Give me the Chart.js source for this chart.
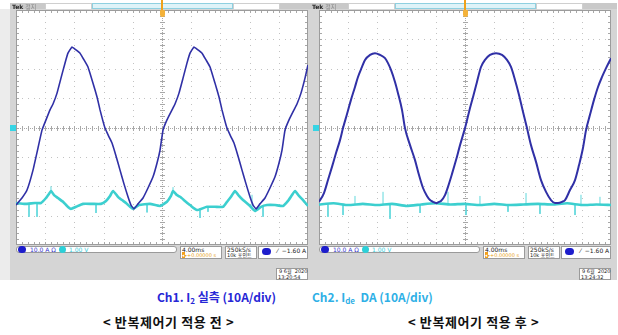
<!DOCTYPE html>
<html>
<head>
<meta charset="utf-8">
<script src="https://cdn.jsdelivr.net/npm/chart.js@4.4.1/dist/chart.umd.min.js"></script>
<style>
  body { margin: 0; width: 618px; height: 335px; background: #fff; position: relative; overflow: hidden;
         font-family: "Noto Sans CJK KR", "Noto Sans", sans-serif; }
  .b { position: absolute; box-sizing: border-box; }
  .t { position: absolute; white-space: nowrap; font-family: "DejaVu Sans", "Noto Sans CJK KR", sans-serif; }
  canvas { position: absolute; background: #fff; }
  .cap { position: absolute; white-space: nowrap; font-weight: bold; font-size: 12px; line-height: 16px; }
  .cap sub { font-size: 8px; vertical-align: -2px; line-height: 0; }
  .cap.k { font-size: 13px; letter-spacing: 0.6px; }
</style>
</head>
<body>
<canvas id="before" width="292" height="235" style="left:16px;top:10px"></canvas>
<canvas id="after" width="292" height="235" style="left:319px;top:10px"></canvas>

<div class="cap" style="left:157px;top:289px;color:#2626d6">Ch1. I<sub>2</sub> 실측 (10A/div)</div>
<div class="cap" style="left:312px;top:289px;color:#2fb0e6">Ch2. I<sub>de</sub>&nbsp; DA (10A/div)</div>
<div class="cap k" style="left:103px;top:314px;color:#111">&lt; 반복제어기 적용 전 &gt;</div>
<div class="cap k" style="left:408px;top:314px;color:#111">&lt; 반복제어기 적용 후 &gt;</div>

<script>
// 시간축: ms (4 ms/div), 세로축: A (10 A/div)
const xTicks = [-16, -12, -8, -4, 0, 4, 8, 12, 16];
const yTicks = [-30, -20, -10, 0, 10, 20, 30];

// 적용 전 - Ch1 I2 실측
const ch1BeforeT = [-20.0, -19.18, -18.49, -17.67, -16.99, -16.44, -15.89, -15.34, -14.93, -14.38, -13.84, -13.29, -12.88, -12.33,
  -11.78, -11.23, -10.68, -10.14, -9.45, -8.90, -8.49, -7.81, -7.26, -6.85, -6.30, -5.75, -5.21, -4.66, -4.25, -3.84,
  -3.29, -2.60, -1.92, -1.23, -0.68, -0.27, 0.14, 0.68, 1.37, 1.78, 2.33, 2.88, 3.42, 3.84, 4.38,
  4.93, 5.48, 6.03, 6.58, 7.26, 7.81, 8.22, 8.90, 9.45, 9.86, 10.41, 10.96, 11.51, 12.05, 12.47, 12.88,
  13.42, 14.11, 14.79, 15.48, 16.03, 16.44, 16.85, 17.40, 18.08, 18.49, 19.04, 19.59, 20.0];
const ch1BeforeA = [-26.4, -24.0, -21.3, -14.5, -7.0, -0.9, 2.6, 6.0, 8.0, 11.7, 16.8, 21.9, 25.3, 27.4,
  26.4, 25.3, 23.0, 20.6, 15.1, 10.4, 6.0, -0.2, -3.2, -5.3, -9.7, -14.5, -19.2, -23.6, -26.4, -27.7,
  -26.0, -24.0, -20.6, -16.8, -12.1, -7.7, -0.9, 2.6, 6.0, 8.0, 11.7, 16.8, 21.9, 25.3, 27.4,
  26.4, 25.3, 23.0, 20.6, 15.1, 10.4, 6.0, -0.2, -3.2, -5.3, -9.7, -14.5, -19.2, -23.6, -26.4, -27.7,
  -26.0, -24.0, -20.6, -16.8, -12.1, -7.7, -0.9, 2.6, 6.0, 8.0, 11.7, 16.8, 21.3];

// 적용 전 - Ch2 Ide DA
const ch2BeforeT = [-20.0, -18.77, -17.40, -16.58, -15.89, -15.48, -15.21, -14.79, -14.25, -13.56, -13.01, -12.47, -11.78, -10.82,
  -9.59, -8.36, -7.67, -7.12, -6.71, -6.03, -5.48, -4.93, -4.38, -3.97, -3.15, -1.64, -0.27,
  0.68, 1.23, 1.51, 2.05, 2.47, 3.15, 3.84, 4.79, 6.16, 7.26, 8.36, 8.90, 9.45, 10.00, 10.55, 11.10,
  11.92, 12.74, 13.56, 14.38, 15.48, 16.58, 17.26, 17.81, 18.22, 18.77, 19.32, 20.0];
const ch2BeforeA = [-25.7, -26.0, -25.7, -25.7, -24.0, -22.6, -21.6, -23.0, -24.0, -25.3, -26.7, -27.7, -27.0, -26.0,
  -26.0, -26.0, -25.0, -23.3, -21.6, -23.6, -24.7, -25.7, -27.0, -27.7, -26.4, -26.0, -26.7,
  -25.3, -23.3, -21.6, -23.0, -23.6, -25.0, -26.4, -28.1, -27.0, -27.0, -27.0, -25.3, -23.6, -21.6, -23.3, -24.7,
  -26.4, -28.4, -27.0, -26.4, -26.4, -26.7, -25.0, -23.0, -21.6, -23.3, -24.7, -26.7];
const spikeBeforeT = [-18.22, -17.12, -15.21, -9.04, -2.05, 1.51, 5.21, 6.30, 12.33, 13.84];
const spikeBeforeFrom = [-26.0, -25.7, -21.6, -26.0, -26.0, -21.6, -27.5, -27.0, -27.0, -27.0];
const spikeBeforeTo = [-30.4, -30.4, -20.0, -29.1, -28.9, -20.3, -30.8, -28.7, -22.9, -30.4];

// 적용 후 - Ch1 I2 실측
const ch1AfterT = [-20.0, -19.32, -18.77, -18.22, -17.67, -17.12, -16.71, -16.16, -15.62, -15.07, -14.66, -14.11, -13.70, -13.01,
  -12.33, -11.64, -10.96, -10.55, -10.14, -9.59, -9.18, -8.63, -8.22, -7.53, -6.85, -6.30, -5.75, -5.21,
  -4.79, -4.38, -3.97, -3.56, -3.29, -2.74, -2.33, -1.78, -1.23, -0.68, 0, 0.55, 1.10, 1.64, 2.19, 2.74,
  3.42, 4.25, 5.07, 5.75, 6.30, 6.85, 7.40, 7.95, 8.49, 9.04, 9.73, 10.41, 11.10, 11.78, 12.33, 12.74,
  13.29, 13.70, 14.38, 15.07, 15.62, 16.16, 16.58, 17.12, 17.67, 18.22, 18.77, 19.32, 20.0];
const ch1AfterA = [-25.3, -22.3, -17.9, -13.4, -8.7, -4.3, -0.2, 4.6, 9.4, 13.8, 17.2, 20.6, 23.0, 24.7,
  25.3, 24.7, 23.6, 21.9, 19.6, 15.5, 11.7, 6.0, -0.2, -6.0, -11.1, -16.2, -20.6, -23.3,
  -24.7, -25.3, -25.7, -25.3, -25.0, -23.0, -20.2, -15.8, -11.1, -6.0, -0.2, 5.3, 10.4, 15.5, 20.6, 23.0,
  24.7, 25.3, 24.7, 23.0, 20.6, 16.2, 11.1, 5.3, -0.2, -6.0, -11.7, -17.9, -21.9, -24.7, -25.7, -25.7,
  -25.3, -24.7, -21.3, -17.9, -12.8, -7.0, -0.9, 4.3, 9.4, 13.8, 17.2, 20.2, 23.6];

// 적용 후 - Ch2 Ide DA
const ch2AfterT = [-20, -18, -16, -14, -12, -10, -8, -6, -4, -2, 0, 2, 4, 6, 8, 10, 12, 14, 16, 18, 20];
const ch2AfterA = [-26.2, -25.8, -26.4, -26.0, -26.4, -26.0, -26.7, -26.2, -25.8, -26.2, -26.0,
  -26.4, -26.0, -26.4, -26.2, -26.0, -26.2, -25.8, -26.4, -26.2, -26.4];
const spikeAfterT = [-18.77, -16.71, -15.07, -11.23, -10.27, -6.16, -2.33, 0.14, 2.05, 5.89, 8.36, 10.27, 15.07, 15.89, 18.49];
const spikeAfterTo = [-30.4, -29.8, -23.3, -21.9, -31.1, -29.1, -21.9, -29.8, -23.3, -28.7, -22.3, -29.4, -29.8, -22.9, -23.6];

const zip = (ts, vs) => ts.map((t, i) => ({ x: t, y: vs[i] }));

function spikeSegs(ts, from, to) {
  const pts = [];
  ts.forEach((t, i) => {
    pts.push({ x: t, y: Array.isArray(from) ? from[i] : from }, { x: t, y: to[i] }, { x: t, y: null });
  });
  return pts;
}

// 오실로스코프 격자
const scopeGrid = {
  id: 'scopeGrid',
  beforeDatasetsDraw(chart) {
    const { ctx, chartArea: a, scales: { x, y } } = chart;
    ctx.save();
    const minorX = [], minorY = [];
    for (let v = -20; v <= 20.001; v += 0.8) minorX.push(x.getPixelForValue(v));
    for (let v = -40; v <= 40.001; v += 2) minorY.push(y.getPixelForValue(v));
    ctx.fillStyle = '#c2c2c2';
    xTicks.forEach(t => {
      const px = Math.round(x.getPixelForValue(t));
      minorY.forEach(py => ctx.fillRect(px, Math.round(py), 1, 1));
    });
    yTicks.forEach(t => {
      const py = Math.round(y.getPixelForValue(t));
      minorX.forEach(px => ctx.fillRect(Math.round(px), py, 1, 1));
    });
    // 중심선 눈금
    const cx = Math.round(x.getPixelForValue(0));
    const cy = Math.round(y.getPixelForValue(0));
    ctx.fillStyle = '#a8a8a8';
    minorY.forEach(py => ctx.fillRect(cx - 2, Math.round(py), 5, 1));
    minorX.forEach(px => ctx.fillRect(Math.round(px), cy - 2, 1, 5));
    for (let py = a.top; py < a.bottom; py += 2) ctx.fillRect(cx, py, 1, 1);
    for (let px = a.left; px < a.right; px += 2) ctx.fillRect(px, cy, 1, 1);
    // 테두리 눈금
    minorX.forEach(px => {
      ctx.fillRect(Math.round(px), a.top, 1, 3);
      ctx.fillRect(Math.round(px), a.bottom - 3, 1, 3);
    });
    minorY.forEach(py => {
      ctx.fillRect(a.left, Math.round(py), 3, 1);
      ctx.fillRect(a.right - 3, Math.round(py), 3, 1);
    });
    ctx.strokeStyle = '#9c9c9c';
    ctx.lineWidth = 1;
    ctx.strokeRect(a.left + 0.5, a.top + 0.5, a.right - a.left - 1, a.bottom - a.top - 1);
    ctx.restore();
  }
};

function makeScope(id, ch1, ch2, spikes, ch1Width, ch1Tension, ch1Mode) {
  return new Chart(document.getElementById(id), {
    type: 'scatter',
    data: {
      datasets: [
        { data: ch1, showLine: true, borderColor: '#3030a6', borderWidth: ch1Width, tension: ch1Tension,
          cubicInterpolationMode: ch1Mode, order: 0 },
        { data: ch2, showLine: true, borderColor: '#3ccfcf', borderWidth: 2.6, tension: 0.15, order: 1 },
        { data: spikes, showLine: true, borderColor: '#62d8dc', borderWidth: 1, spanGaps: false, order: 2 }
      ]
    },
    options: {
      responsive: false,
      animation: false,
      devicePixelRatio: 1,
      layout: { padding: 0 },
      elements: { point: { radius: 0 } },
      plugins: { legend: { display: false }, tooltip: { enabled: false } },
      scales: {
        x: { type: 'linear', min: -20, max: 20, display: false },
        y: { type: 'linear', min: -40, max: 40, display: false }
      }
    },
    plugins: [scopeGrid]
  });
}

makeScope('before', zip(ch1BeforeT, ch1BeforeA), zip(ch2BeforeT, ch2BeforeA),
  spikeSegs(spikeBeforeT, spikeBeforeFrom, spikeBeforeTo), 1.6, 0.1, 'default');
makeScope('after', zip(ch1AfterT, ch1AfterA), zip(ch2AfterT, ch2AfterA),
  spikeSegs(spikeAfterT, -26.2, spikeAfterTo), 2, 0.4, 'monotone');

// 스코프 화면 테두리, 상태 표시줄
function el(cls, x, y, w, h, css, html) {
  const d = document.createElement('div');
  d.className = cls;
  d.style.cssText = `left:${x}px;top:${y}px;` + (w ? `width:${w}px;` : '') + (h ? `height:${h}px;` : '') + (css || '');
  if (html) d.innerHTML = html;
  document.body.insertBefore(d, document.body.firstChild);
  return d;
}
function txt(x, y, s, color, size, extra) {
  const d = document.createElement('div');
  d.className = 't';
  d.style.cssText = `left:${x}px;top:${y}px;color:${color};font-size:${size}px;line-height:${size + 1}px;` + (extra || '');
  d.innerHTML = s;
  document.body.appendChild(d);
}

function bezel(c, left, right, date) {
  const pl = c - 146;
  // 회색 틀
  el('b', left, 9, right - left, 271, 'background:#d5d5d5;');
  el('b', pl - 3, 10, 3, 236, 'background:#b9b9b9;');
  // 윗줄
  el('b', Math.max(left, c - 162), 3, c - 117 - Math.max(left, c - 162), 7, 'background:#c9c9c9;');
  el('b', c - 117, 3, 47, 7, 'background:#fff;border:1px solid #cfcfcf;');
  el('b', c - 70, 3, 141, 6, 'background:#dff3f8;border:1px solid #8fd0e0;');
  el('b', c + 71, 3, 47, 7, 'background:#fff;border:1px solid #cfcfcf;');
  el('b', c + 118, 3, right - c - 118, 7, 'background:#c9c9c9;');
  txt(Math.max(left, c - 162) + 2, 3, '<b>Tek</b> <span style="color:#888">정지</span>', '#222', 6);
  // 트리거 표시
  txt(c - 1, 0, '', '#000', 6, 'width:2px;height:11px;background:#f0a21c;');
  txt(c - 2, 10, '', '#000', 6, 'width:5px;height:7px;background:#f4b23a;border-radius:1px 1px 3px 3px;');
  // 채널 표시
  txt(pl - 6, 125, '', '#000', 6, 'width:6px;height:6px;background:#35d4e4;');
  // 아래 정보 상자
  txt(c - 146, 246, '', '#000', 6, 'width:161px;height:7px;background:#fff;border:1px solid #9a9a9a;border-radius:3px;box-sizing:border-box;');
  txt(c - 144, 246, '', '#000', 6, 'width:8px;height:7px;background:#1d1dcc;border-radius:4px;');
  txt(c - 132, 246, '10.0 A Ω', '#3a3ad0', 6);
  txt(c - 103, 246, '', '#000', 6, 'width:7px;height:7px;background:#2cd0d8;border-radius:4px;');
  txt(c - 93, 246, '1.00 V', '#40d0e0', 6);
  txt(c + 18, 246, '', '#000', 6, 'width:42px;height:13px;background:#fff;border:1px solid #9a9a9a;box-sizing:border-box;');
  txt(c + 20, 246, '4.00ms', '#222', 6);
  txt(c + 20, 252, '<span style="background:#f2a01a;color:#fff">◂</span>▸+0.00000 s', '#e8a020', 5);
  txt(c + 63, 246, '', '#000', 6, 'width:32px;height:13px;background:#fff;border:1px solid #9a9a9a;box-sizing:border-box;');
  txt(c + 65, 246, '250kS/s', '#222', 6);
  txt(c + 65, 252, '10k 포인트', '#222', 5);
  txt(c + 96, 246, '', '#000', 6, 'width:50px;height:13px;background:#fff;border:1px solid #9a9a9a;box-sizing:border-box;');
  txt(c + 100, 248, '', '#000', 6, 'width:9px;height:7px;background:#1d1dcc;border-radius:4px;');
  txt(c + 115, 247, '⁄ &nbsp;−1.60 A', '#222', 6);
  // 날짜
  txt(c + 114, 268, '', '#000', 6, 'width:32px;height:12px;background:#fff;border:1px solid #9a9a9a;box-sizing:border-box;');
  txt(c + 117, 268, '9 6월 &nbsp;2020', '#222', 5);
  txt(c + 116, 274, date, '#222', 5);
}

el('b', 0, 9, 10, 271, 'background:#ececec;');
bezel(162, 10, 310, '13:20:54');
bezel(465, 310, 617, '13:24:32');
</script>
</body>
</html>
